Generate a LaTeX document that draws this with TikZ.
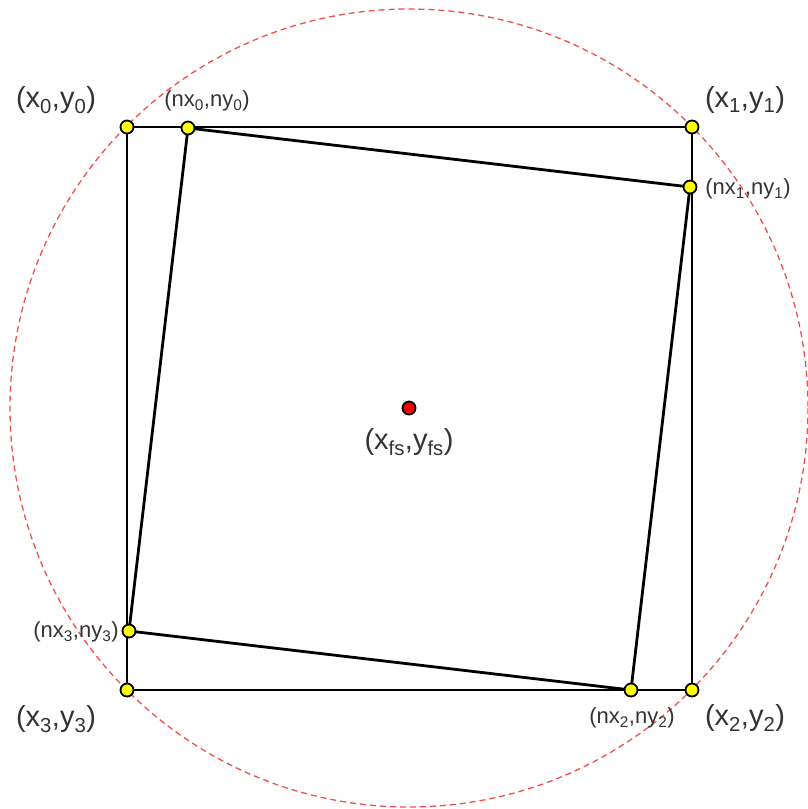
\documentclass[tikz,border=0pt]{standalone}
\usepackage{fontspec}
\setmainfont{Liberation Sans}
\usetikzlibrary{positioning}
\definecolor{lblGray}{HTML}{333333}
\definecolor{dotYellow}{HTML}{FFFF00}
\definecolor{circRed}{HTML}{F05050}

\begin{document}
\begin{tikzpicture}[
  x=1pt, y=-1pt,
  every node/.style={text=lblGray, inner sep=0pt},
  edge/.style={line width=2.8pt, black},
  ptdot/.style={circle, draw=black, line width=1.8pt, fill=dotYellow, minimum size=13pt},
  ctrdot/.style={circle, draw=black, line width=1.8pt, fill=red, minimum size=13pt},
  biglabel/.style={font=\fontsize{29}{32}\selectfont},
  smalllabel/.style={font=\fontsize{22}{25}\selectfont},
  ring/.style={circRed, line width=1.3pt, dash pattern=on 6pt off 4pt}
]
 \useasboundingbox (0,0) rectangle (807,809);

 % Corner points of the outer square
 \coordinate (x0) at (127,127);
 \coordinate (x1) at (692,127);
 \coordinate (x2) at (692,690);
 \coordinate (x3) at (127,690);
 % Corner points of the rotated square
 \coordinate (n0) at (188,128);
 \coordinate (n1) at (690,187);
 \coordinate (n2) at (631,690);
 \coordinate (n3) at (129,631);
 % Centre
 \coordinate (fs) at (409,408);

 % Circumscribed circle
 \draw[ring] (fs) circle[radius=399];

 % Squares
 \draw[edge] (x0) -- (x1) -- (x2) -- (x3) -- cycle;
 \draw[edge] (n0) -- (n1) -- (n2) -- (n3) -- cycle;

 % Dots
 \node[ptdot] (d0) at (x0) {};
 \node[ptdot] (d1) at (x1) {};
 \node[ptdot] (d2) at (x2) {};
 \node[ptdot] (d3) at (x3) {};
 \node[ptdot] (e0) at (n0) {};
 \node[ptdot] (e1) at (n1) {};
 \node[ptdot] (e2) at (n2) {};
 \node[ptdot] (e3) at (n3) {};
 \node[ctrdot] (dc) at (fs) {};

 % Labels
 \node[biglabel] (t0) at (56,100) {(x\textsubscript{0},y\textsubscript{0})};
 \node[biglabel] (t1) at (745,100) {(x\textsubscript{1},y\textsubscript{1})};
 \node[biglabel] (t2) at (745,718) {(x\textsubscript{2},y\textsubscript{2})};
 \node[biglabel] (t3) at (56,719) {(x\textsubscript{3},y\textsubscript{3})};
 \node[smalllabel] (u0) at (207,101) {(nx\textsubscript{0},ny\textsubscript{0})};
 \node[smalllabel] (u1) at (748,189) {(nx\textsubscript{1},ny\textsubscript{1})};
 \node[smalllabel] (u2) at (632,718) {(nx\textsubscript{2},ny\textsubscript{2})};
 \node[smalllabel] (u3) at (76,632) {(nx\textsubscript{3},ny\textsubscript{3})};
 \node[biglabel] (tc) at (409,442) {(x\textsubscript{fs},y\textsubscript{fs})};
\end{tikzpicture}
\end{document}
